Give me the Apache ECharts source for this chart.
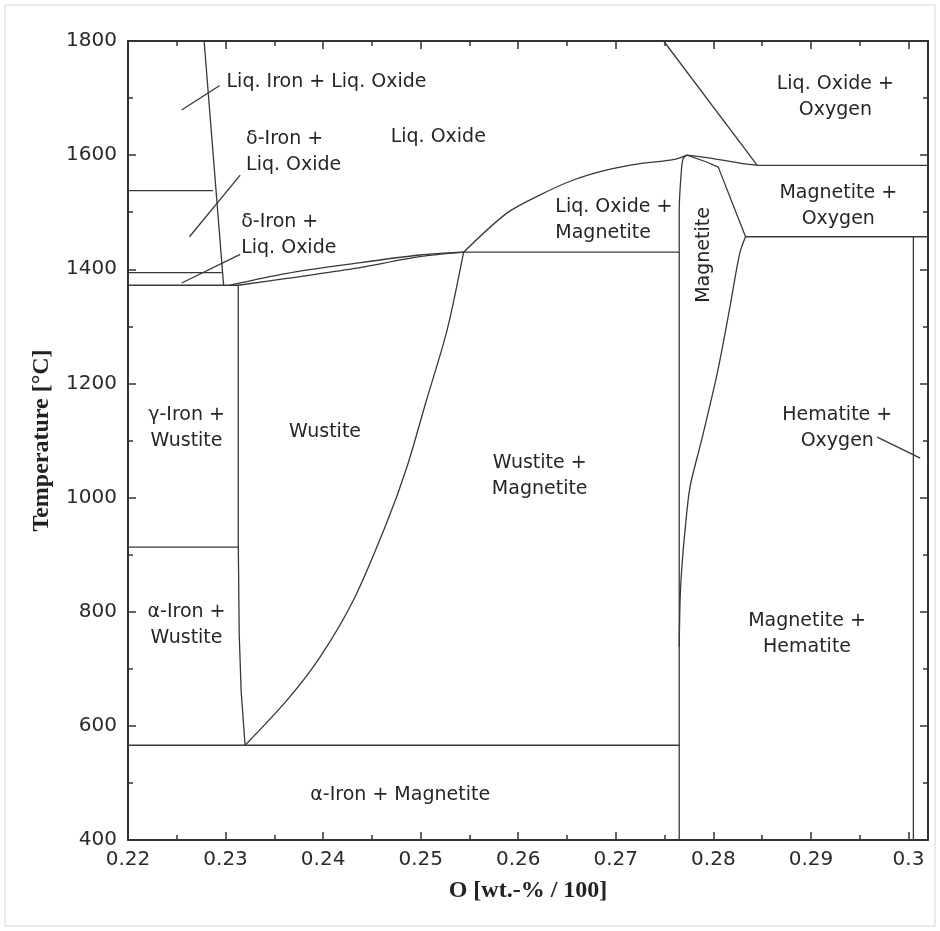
<!DOCTYPE html>
<html>
<head>
<meta charset="utf-8">
<script src="https://cdn.jsdelivr.net/npm/echarts@6/dist/echarts.min.js"></script>
<style>
  html, body { margin: 0; padding: 0; background: #fff; }
  #chart { width: 940px; height: 931px; }
</style>
</head>
<body>
<div id="chart"></div>
<script>
  'use strict'
  /* Fe-O phase diagram */

  // axis ranges and ticks
  var xRange = [0.22, 0.302];
  var yRange = [400, 1800];
  var xStep = 0.01;
  var yStep = 200;

  // phase boundaries, [O fraction, temperature]
  var deltaLiquidus = [[0.2278, 1800], [0.2298, 1372]];
  var line1538 = [[0.22, 1538], [0.2287, 1538]];
  var line1394 = [[0.22, 1394], [0.2296, 1394]];
  var line1372 = [[0.22, 1372], [0.2313, 1372]];
  var line912 = [[0.22, 913], [0.2313, 913]];
  var eutectoid = [[0.22, 566], [0.2765, 566]];
  var wustiteLeft = [[0.2313, 1372], [0.2313, 925], [0.2314, 760], [0.2316, 660], [0.2320, 566]];
  var wustiteRight = [[0.2320, 566], [0.2363, 645], [0.2397, 721], [0.2431, 820], [0.2465, 955], [0.2486, 1054], [0.2506, 1171], [0.2527, 1293], [0.2544, 1430]];
  var oxideLiquidus = [[0.2304, 1372], [0.2363, 1393], [0.2431, 1410], [0.2499, 1425], [0.2544, 1430]];
  var wustiteSolidus = [[0.2313, 1372], [0.2363, 1384], [0.2431, 1401], [0.2499, 1422], [0.2544, 1430]];
  var peritectic = [[0.2544, 1430], [0.2765, 1430]];
  var domeLeft = [[0.2544, 1430], [0.2588, 1498], [0.2622, 1530], [0.2656, 1556], [0.2691, 1574], [0.2725, 1585], [0.2759, 1592], [0.2773, 1600]];
  var domeRight = [[0.2773, 1600], [0.2800, 1594], [0.2827, 1586], [0.2845, 1582]];
  var magnetiteLeft = [[0.2765, 400], [0.2765, 1503], [0.2767, 1568], [0.2769, 1594], [0.2773, 1600]];
  var magnetiteTop = [[0.2773, 1600], [0.2793, 1588], [0.2805, 1579], [0.2833, 1457]];
  var magnetiteRight = [[0.2833, 1457], [0.2827, 1428], [0.2817, 1334], [0.2804, 1218], [0.2788, 1101], [0.2776, 1018], [0.2771, 943], [0.2768, 885], [0.2766, 826], [0.2765, 738]];
  var oxygenLine = [[0.2749, 1800], [0.2845, 1582]];
  var line1582 = [[0.2845, 1582], [0.302, 1582]];
  var line1457 = [[0.2833, 1457], [0.302, 1457]];
  var hematite = [[0.3005, 1457], [0.3005, 400]];

  // label leader lines
  var leaderLiqIron = [[0.2255, 1679], [0.2294, 1722]];
  var leaderDelta1 = [[0.2263, 1457], [0.2315, 1565]];
  var leaderDelta2 = [[0.2255, 1376], [0.2315, 1426]];
  var leaderHematite = [[0.2968, 1106], [0.3012, 1069]];

  // region labels: [x, T, text, align, rotate]
  var regionLabels = [
    [0.2301, 1728, 'Liq. Iron + Liq. Oxide', 'left', 0],
    [0.2321, 1606, 'δ-Iron +\nLiq. Oxide', 'left', 0],
    [0.2316, 1460, 'δ-Iron +\nLiq. Oxide', 'left', 0],
    [0.2518, 1632, 'Liq. Oxide', 'center', 0],
    [0.2925, 1702, 'Liq. Oxide +\nOxygen', 'center', 0],
    [0.2928, 1511, 'Magnetite +\nOxygen', 'center', 0],
    [0.2638, 1486, 'Liq. Oxide +\nMagnetite', 'left', 0],
    [0.2790, 1425, 'Magnetite', 'center', 90],
    [0.2260, 1122, 'γ-Iron +\nWustite', 'center', 0],
    [0.2402, 1115, 'Wustite', 'center', 0],
    [0.2622, 1038, 'Wustite +\nMagnetite', 'center', 0],
    [0.2260, 777, 'α-Iron +\nWustite', 'center', 0],
    [0.2479, 479, 'α-Iron + Magnetite', 'center', 0],
    [0.2927, 1122, 'Hematite +\nOxygen', 'center', 0],
    [0.2896, 761, 'Magnetite +\nHematite', 'center', 0]
  ];

  // [points, smooth]
  var boundaries = [
    [deltaLiquidus, false], [line1538, false], [line1394, false], [line1372, false],
    [line912, false], [eutectoid, false], [wustiteLeft, false], [wustiteRight, true],
    [oxideLiquidus, true], [wustiteSolidus, true], [peritectic, false], [domeLeft, true],
    [domeRight, true], [magnetiteLeft, true], [magnetiteTop, false], [magnetiteRight, true],
    [oxygenLine, false], [line1582, false], [line1457, false], [hematite, false],
    [leaderLiqIron, false], [leaderDelta1, false], [leaderDelta2, false], [leaderHematite, false]
  ];

  var lineColor = '#383838';
  var textFont = 'DejaVu Sans';

  var series = boundaries.map(function (b) {
    return {
      type: 'line',
      data: b[0],
      smooth: b[1] ? 0.3 : false,
      symbol: 'none',
      silent: true,
      lineStyle: { color: lineColor, width: 1.3 }
    };
  });

  series.push({
    type: 'scatter',
    symbolSize: 0,
    silent: true,
    itemStyle: { opacity: 1 },
    data: regionLabels.map(function (l) {
      return {
        value: [l[0], l[1]],
        label: {
          show: true,
          position: 'inside',
          formatter: l[2],
          align: l[3],
          verticalAlign: 'middle',
          rotate: l[4],
          fontFamily: textFont,
          fontSize: 19,
          lineHeight: 26,
          color: '#262626'
        }
      };
    })
  });

  function xLabel(v) {
    var r = Math.round(v * 100);
    if (Math.abs(v * 100 - r) > 1e-6) return '';
    return String(r / 100);
  }

  var axisLineStyle = { color: '#333', width: 2 };

  var xBase = {
    type: 'value',
    min: xRange[0],
    max: xRange[1],
    interval: xStep,
    splitLine: { show: false },
    axisLine: { show: true, onZero: false, lineStyle: axisLineStyle },
    axisTick: { show: true, inside: true, length: 8, lineStyle: { color: '#333', width: 1.5 } },
    minorTick: { show: true, splitNumber: 2, length: 5, lineStyle: { color: '#333', width: 1.5 } }
  };
  var yBase = {
    type: 'value',
    min: yRange[0],
    max: yRange[1],
    interval: yStep,
    splitLine: { show: false },
    axisLine: { show: true, onZero: false, lineStyle: axisLineStyle },
    axisTick: { show: true, inside: true, length: 8, lineStyle: { color: '#333', width: 1.5 } },
    minorTick: { show: true, splitNumber: 2, length: 5, lineStyle: { color: '#333', width: 1.5 } }
  };

  var chart = echarts.init(document.getElementById('chart'));
  chart.setOption({
    animation: false,
    backgroundColor: '#fff',
    grid: { left: 128, right: 12, top: 41, bottom: 91 },
    xAxis: [
      Object.assign({}, xBase, {
        position: 'bottom',
        name: 'O [wt.-% / 100]',
        nameLocation: 'middle',
        nameGap: 39,
        nameTextStyle: { fontFamily: 'Liberation Serif', fontWeight: 'bold', fontSize: 24, color: '#222' },
        axisLabel: { formatter: xLabel, margin: 10, fontFamily: textFont, fontSize: 20, color: '#2a2a2a' }
      }),
      Object.assign({}, xBase, { position: 'top', axisLabel: { show: false } })
    ],
    yAxis: [
      Object.assign({}, yBase, {
        position: 'left',
        name: 'Temperature [°C]',
        nameLocation: 'middle',
        nameGap: 74,
        nameTextStyle: { fontFamily: 'Liberation Serif', fontWeight: 'bold', fontSize: 24, color: '#222' },
        axisLabel: {
          formatter: function (v) { return String(v); },
          margin: 11, fontFamily: textFont, fontSize: 20, color: '#2a2a2a'
        }
      }),
      Object.assign({}, yBase, { position: 'right', axisLabel: { show: false } })
    ],
    graphic: [{
      type: 'rect',
      shape: { x: 5, y: 5, width: 930, height: 921 },
      style: { fill: 'none', stroke: '#d6d6d6', lineWidth: 1 },
      silent: true
    }],
    series: series
  });
  /* Fe-O phase diagram closed */
</script>
</body>
</html>
